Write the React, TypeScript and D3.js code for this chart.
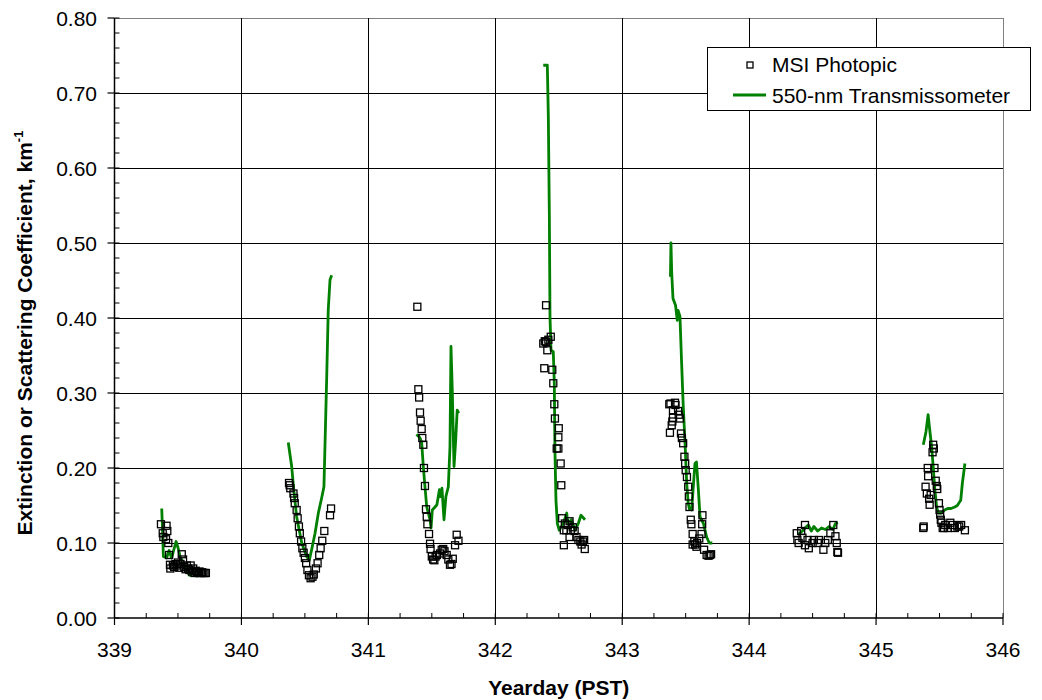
import React from "react";
import * as d3 from "d3";

type P = [number, number];

const xTickValues = [339, 340, 341, 342, 343, 344, 345, 346];
const yTickValues = [0, 0.1, 0.2, 0.3, 0.4, 0.5, 0.6, 0.7, 0.8];
const seriesNames = ["MSI Photopic", "550-nm Transmissometer"];

const trans339: P[] = [[339.372,0.146],[339.38,0.11],[339.385,0.082],[339.41,0.08],[339.43,0.09],[339.45,0.08],[339.485,0.102],[339.5,0.094],[339.52,0.08],[339.535,0.076],[339.555,0.071],[339.59,0.057],[339.62,0.06],[339.647,0.056],[339.67,0.058]];
const trans340: P[] = [[340.369,0.234],[340.396,0.202],[340.41,0.175],[340.435,0.135],[340.475,0.1],[340.514,0.082],[340.535,0.077],[340.553,0.091],[340.58,0.113],[340.606,0.14],[340.632,0.16],[340.65,0.175],[340.658,0.228],[340.672,0.322],[340.684,0.411],[340.698,0.451],[340.711,0.457]];
const trans341: P[] = [[341.38,0.242],[341.39,0.244],[341.407,0.24],[341.42,0.234],[341.433,0.202],[341.446,0.175],[341.46,0.148],[341.486,0.131],[341.494,0.12],[341.504,0.144],[341.525,0.148],[341.54,0.151],[341.56,0.171],[341.568,0.162],[341.58,0.173],[341.596,0.131],[341.611,0.162],[341.63,0.175],[341.643,0.228],[341.651,0.362],[341.661,0.304],[341.675,0.202],[341.688,0.237],[341.7,0.277],[341.712,0.273]];
const trans342: P[] = [[342.378,0.737],[342.41,0.737],[342.418,0.668],[342.426,0.535],[342.431,0.402],[342.439,0.357],[342.457,0.355],[342.465,0.313],[342.47,0.224],[342.478,0.157],[342.489,0.126],[342.504,0.117],[342.536,0.126],[342.563,0.14],[342.57,0.126],[342.6,0.131],[342.628,0.117],[342.654,0.126],[342.675,0.137],[342.707,0.131]];
const trans343: P[] = [[343.38,0.455],[343.384,0.5],[343.39,0.46],[343.40,0.426],[343.42,0.417],[343.434,0.397],[343.44,0.41],[343.455,0.402],[343.468,0.34],[343.48,0.286],[343.495,0.233],[343.508,0.18],[343.52,0.153],[343.53,0.145],[343.547,0.144],[343.56,0.175],[343.573,0.206],[343.585,0.208],[343.6,0.171],[343.613,0.135],[343.64,0.126],[343.665,0.108],[343.686,0.1],[343.71,0.1]];
const trans344: P[] = [[344.39,0.112],[344.42,0.116],[344.44,0.12],[344.466,0.124],[344.49,0.116],[344.51,0.122],[344.54,0.116],[344.57,0.12],[344.6,0.118],[344.63,0.122],[344.66,0.118],[344.68,0.126],[344.7,0.127]];
const trans345: P[] = [[345.372,0.231],[345.393,0.248],[345.41,0.271],[345.42,0.255],[345.438,0.228],[345.45,0.202],[345.463,0.171],[345.477,0.148],[345.49,0.14],[345.515,0.14],[345.54,0.144],[345.565,0.146],[345.59,0.146],[345.62,0.148],[345.64,0.15],[345.667,0.157],[345.68,0.18],[345.7,0.206]];

const msi339: P[] = [[339.366,0.125],[339.41,0.123],[339.416,0.116],[339.38,0.113],[339.385,0.108],[339.406,0.105],[339.424,0.1],[339.43,0.084],[339.437,0.071],[339.44,0.066],[339.46,0.07],[339.47,0.068],[339.48,0.072],[339.49,0.07],[339.5,0.074],[339.51,0.067],[339.52,0.072],[339.53,0.085],[339.54,0.078],[339.55,0.068],[339.56,0.065],[339.57,0.07],[339.58,0.066],[339.59,0.064],[339.6,0.07],[339.61,0.062],[339.62,0.066],[339.63,0.06],[339.64,0.063],[339.65,0.061],[339.66,0.06],[339.67,0.062],[339.68,0.06],[339.69,0.061],[339.7,0.06],[339.71,0.06],[339.72,0.06]];
const msi340: P[] = [[340.375,0.18],[340.38,0.177],[340.385,0.173],[340.41,0.166],[340.415,0.16],[340.42,0.153],[340.435,0.144],[340.443,0.133],[340.453,0.122],[340.46,0.113],[340.47,0.102],[340.48,0.093],[340.49,0.087],[340.5,0.08],[340.51,0.073],[340.52,0.064],[340.532,0.057],[340.545,0.053],[340.56,0.055],[340.57,0.058],[340.587,0.066],[340.6,0.073],[340.613,0.084],[340.624,0.093],[340.637,0.103],[340.653,0.116],[340.698,0.137],[340.706,0.146]];
const msi341: P[] = [[341.386,0.415],[341.394,0.305],[341.4,0.294],[341.407,0.274],[341.412,0.263],[341.42,0.252],[341.425,0.24],[341.433,0.231],[341.438,0.2],[341.446,0.176],[341.454,0.145],[341.46,0.135],[341.465,0.125],[341.478,0.112],[341.486,0.099],[341.49,0.092],[341.5,0.082],[341.51,0.078],[341.52,0.077],[341.53,0.082],[341.54,0.084],[341.565,0.086],[341.578,0.091],[341.59,0.092],[341.6,0.089],[341.617,0.084],[341.63,0.078],[341.643,0.071],[341.655,0.072],[341.665,0.079],[341.683,0.097],[341.696,0.111],[341.71,0.103]];
const msi342: P[] = [[342.4,0.417],[342.378,0.366],[342.39,0.369],[342.4,0.368],[342.418,0.371],[342.437,0.375],[342.41,0.357],[342.386,0.333],[342.449,0.331],[342.457,0.313],[342.465,0.285],[342.47,0.266],[342.5,0.253],[342.497,0.241],[342.484,0.226],[342.497,0.226],[342.515,0.206],[342.52,0.177],[342.527,0.133],[342.548,0.126],[342.54,0.117],[342.56,0.117],[342.57,0.124],[342.585,0.129],[342.595,0.117],[342.61,0.121],[342.625,0.116],[342.64,0.108],[342.655,0.104],[342.67,0.102],[342.68,0.098],[342.69,0.102],[342.7,0.104],[342.54,0.097],[342.585,0.108],[342.705,0.092]];
const msi343: P[] = [[343.371,0.285],[343.38,0.286],[343.416,0.287],[343.42,0.284],[343.4,0.277],[343.44,0.276],[343.445,0.271],[343.455,0.266],[343.4,0.267],[343.395,0.262],[343.39,0.257],[343.376,0.247],[343.463,0.246],[343.47,0.24],[343.48,0.233],[343.49,0.215],[343.496,0.206],[343.5,0.197],[343.51,0.188],[343.52,0.175],[343.525,0.162],[343.53,0.148],[343.54,0.131],[343.545,0.125],[343.555,0.112],[343.568,0.102],[343.575,0.098],[343.59,0.1],[343.607,0.106],[343.625,0.112],[343.63,0.125],[343.632,0.137],[343.645,0.091],[343.665,0.084],[343.68,0.083],[343.69,0.084],[343.7,0.085],[343.555,0.098],[343.585,0.095]];
const msi344: P[] = [[344.375,0.113],[344.38,0.104],[344.39,0.1],[344.44,0.124],[344.41,0.116],[344.42,0.107],[344.44,0.097],[344.46,0.104],[344.47,0.093],[344.5,0.1],[344.51,0.104],[344.54,0.1],[344.55,0.104],[344.585,0.091],[344.6,0.1],[344.62,0.104],[344.64,0.113],[344.663,0.124],[344.68,0.109],[344.69,0.1],[344.695,0.088],[344.7,0.087]];
const msi345: P[] = [[345.372,0.12],[345.375,0.122],[345.45,0.231],[345.455,0.226],[345.445,0.221],[345.407,0.2],[345.46,0.2],[345.41,0.189],[345.47,0.183],[345.478,0.176],[345.482,0.172],[345.39,0.175],[345.4,0.166],[345.43,0.164],[345.418,0.159],[345.422,0.151],[345.495,0.153],[345.5,0.144],[345.505,0.138],[345.51,0.131],[345.515,0.127],[345.525,0.12],[345.535,0.12],[345.545,0.124],[345.565,0.12],[345.585,0.127],[345.605,0.124],[345.62,0.12],[345.64,0.122],[345.655,0.122],[345.67,0.124],[345.7,0.117]];

const transDays = [trans339, trans340, trans341, trans342, trans343, trans344, trans345];
const msiDays = [msi339, msi340, msi341, msi342, msi343, msi344, msi345];

const FONT = "'Liberation Sans', Arial, Helvetica, sans-serif";

export default function App() {
  const W = 1042, H = 700;
  const x = d3.scaleLinear().domain([339, 346]).range([114.5, 1003]);
  const y = d3.scaleLinear().domain([0, 0.8]).range([618, 18]);
  const line = d3.line<P>().x((d) => x(d[0])).y((d) => y(d[1]));
  const xMinor = d3.range(339, 346.001, 0.25);
  const yMinor = d3.range(0, 0.8001, 0.02);
  const msiAll = msiDays.flat();
  const sq = 7;

  return (
    <svg width={W} height={H} style={{ position: "absolute", left: 0, top: 0, background: "#fff" }} fontFamily={FONT}>
      <rect x={0} y={0} width={W} height={H} fill="#fff" />
      {/* grid */}
      {yTickValues.slice(1).map((v) => (
        <line key={"gy" + v} x1={x(339)} x2={x(346)} y1={Math.round(y(v)) + 0.5} y2={Math.round(y(v)) + 0.5} stroke={v === 0.8 ? "#808080" : "#000"} strokeWidth={1} />
      ))}
      {xTickValues.slice(1).map((v) => (
        <line key={"gx" + v} x1={Math.round(x(v)) + 0.5} x2={Math.round(x(v)) + 0.5} y1={y(0.8)} y2={y(0)} stroke={v === 346 ? "#808080" : "#000"} strokeWidth={1} />
      ))}
      {/* axes */}
      <line x1={x(339)} x2={x(339)} y1={y(0.8)} y2={y(0)} stroke="#000" strokeWidth={1.5} />
      <line x1={x(339)} x2={x(346)} y1={y(0)} y2={y(0)} stroke="#000" strokeWidth={1.5} />
      {yTickValues.map((v) => (
        <line key={"ty" + v} x1={x(339) - 7} x2={x(339)} y1={y(v)} y2={y(v)} stroke="#000" strokeWidth={1.2} />
      ))}
      {yMinor.map((v, i) => (
        <line key={"my" + i} x1={x(339)} x2={x(339) + 5} y1={y(v)} y2={y(v)} stroke="#000" strokeWidth={1} />
      ))}
      {xTickValues.map((v) => (
        <line key={"tx" + v} x1={x(v)} x2={x(v)} y1={y(0)} y2={y(0) + 7} stroke="#000" strokeWidth={1.2} />
      ))}
      {xMinor.map((v, i) => (
        <line key={"mx" + i} x1={x(v)} x2={x(v)} y1={y(0)} y2={y(0) - 5} stroke="#000" strokeWidth={1} />
      ))}
      {/* tick labels */}
      {yTickValues.map((v) => (
        <text key={"ly" + v} x={97} y={y(v) + 7.5} textAnchor="end" fontSize={21} fill="#000">{v.toFixed(2)}</text>
      ))}
      {xTickValues.map((v) => (
        <text key={"lx" + v} x={x(v)} y={657} textAnchor="middle" fontSize={21} fill="#000">{v}</text>
      ))}
      {/* titles */}
      <text x={(x(339) + x(346)) / 2} y={695} textAnchor="middle" fontSize={21} fontWeight="bold">Yearday (PST)</text>
      <text transform="translate(32,333) rotate(-90)" textAnchor="middle" fontSize={21} fontWeight="bold">
        Extinction or Scattering Coefficient, km<tspan fontSize={13} dy={-9}>-1</tspan>
      </text>
      {/* transmissometer lines */}
      {transDays.map((d, i) => (
        <path key={"t" + i} d={line(d) || ""} fill="none" stroke="#008000" strokeWidth={2.8} strokeLinejoin="round" />
      ))}
      {/* MSI squares */}
      {msiAll.map((d, i) => (
        <rect key={"m" + i} x={x(d[0]) - sq / 2} y={y(d[1]) - sq / 2} width={sq} height={sq} fill="none" stroke="#000" strokeWidth={1.3} />
      ))}
      {/* legend */}
      <rect x={707.5} y={47.5} width={323} height={63} fill="#fff" stroke="#000" strokeWidth={1} />
      <rect x={747} y={62} width={6} height={6} fill="none" stroke="#000" strokeWidth={1.3} />
      <line x1={733} x2={766} y1={95} y2={95} stroke="#008000" strokeWidth={2.8} />
      <text x={772} y={72} fontSize={21}>{seriesNames[0]}</text>
      <text x={772} y={103} fontSize={21}>{seriesNames[1]}</text>
    </svg>
  );
}
